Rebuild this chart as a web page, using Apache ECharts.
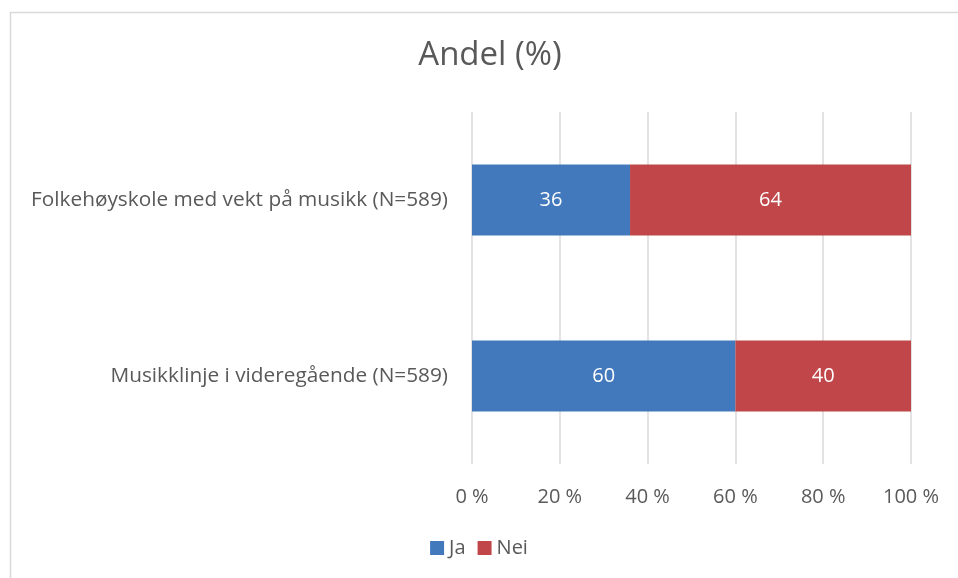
<!DOCTYPE html>
<html>
<head>
<meta charset="utf-8">
<script src="https://cdn.jsdelivr.net/npm/echarts@6/dist/echarts.min.js"></script>
<style>
  html, body { margin: 0; padding: 0; background: #fff; }
  #chart { width: 958px; height: 578px; }
</style>
</head>
<body>
<div id="chart"></div>
<script>
// data
var categories = ['Musikklinje i videregående (N=589)', 'Folkehøyskole med vekt på musikk (N=589)'];
var jaValues = [60, 36];
var neiValues = [40, 64];
var tickLabels = ['0 %', '20 %', '40 %', '60 %', '80 %', '100 %'];

var font = '"Open Sans", "Noto Sans", sans-serif';
var chart = echarts.init(document.getElementById('chart'));

var option = {
    animation: false,
    textStyle: { fontFamily: font },
    title: {
        text: 'Andel (%)',
        left: 485,
        textAlign: 'center',
        top: 34,
        textStyle: { fontFamily: font, fontSize: 33, fontWeight: 'normal', color: '#595959' }
    },
    graphic: [{
        type: 'rect',
        shape: { x: 10.5, y: 12.5, width: 960, height: 580 },
        style: { fill: null, stroke: '#d9d9d9', lineWidth: 1.5 },
        silent: true
    }],
    legend: {
        data: ['Ja', 'Nei'],
        bottom: 15,
        left: 'center',
        icon: 'rect',
        itemWidth: 14,
        itemHeight: 14,
        itemGap: 12,
        itemTextGap: 4,
        textStyle: { fontFamily: font, fontSize: 20, color: '#595959' }
    },
    grid: { left: 472, right: 47, top: 112, bottom: 114 },
    xAxis: {
        type: 'value',
        min: 0, max: 100, interval: 20,
        axisLine: { show: false },
        axisTick: { show: false },
        splitLine: { lineStyle: { color: '#d9d9d9', width: 1.5 } },
        axisLabel: {
            margin: 23,
            fontFamily: font, fontSize: 20, color: '#595959',
            formatter: function (v) { return tickLabels[v / 20]; }
        }
    },
    yAxis: {
        type: 'category',
        data: categories,
        axisLine: { show: false },
        axisTick: { show: false },
        axisLabel: { margin: 24, fontFamily: font, fontSize: 20.8, color: '#595959' }
    },
    series: [{
        name: 'Ja',
        type: 'bar',
        stack: 'total',
        barWidth: 71,
        data: jaValues,
        itemStyle: { color: '#4279BD' },
        label: { show: true, position: 'inside', color: '#fff', fontFamily: font, fontSize: 20 }
    }, {
        name: 'Nei',
        type: 'bar',
        stack: 'total',
        barWidth: 71,
        data: neiValues,
        itemStyle: { color: '#C0464A' },
        label: { show: true, position: 'inside', color: '#fff', fontFamily: font, fontSize: 20 }
    }]
};

chart.setOption(option);
</script>
</body>
</html>
